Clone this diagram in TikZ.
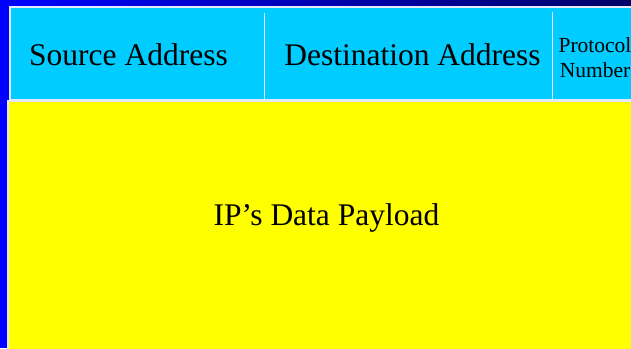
\documentclass[tikz,border=0pt]{standalone}
\usepackage{fontspec}
\setmainfont{Liberation Serif}

\definecolor{slideblue}{HTML}{0000FF}
\definecolor{slidenavy}{HTML}{000066}
\definecolor{fieldcyan}{HTML}{00CCFF}
\definecolor{payloadyellow}{HTML}{FFFF00}
\definecolor{edgewhite}{HTML}{E4E8FF}

\tikzset{
    field/.style={inner sep=0pt, font=\rmfamily\fontsize{31.5}{38}\selectfont},
    smallfield/.style={inner sep=0pt, align=center, font=\rmfamily\fontsize{21.5}{25}\selectfont},
    edge/.style={draw=edgewhite, line width=1.2pt}
}

\begin{document}
\begin{tikzpicture}[x=1pt,y=1pt]
    \useasboundingbox (0,0) rectangle (631,348);
    \clip (0,0) rectangle (631,348);

    % Background
    \fill[slideblue] (0,0) rectangle (631,348);
    \shade[left color=slideblue, right color=slidenavy] (0,342) rectangle (631,348);

    % Header fields
    \filldraw[fill=fieldcyan, edge] (10,248) rectangle (640,341);
    \node[field, anchor=base] (src) at (128.5,282) {Source Address};
    \node[field, anchor=base] (dst) at (412.5,282) {Destination Address};
    \node[smallfield] (proto) at (595,290) {Protocol\\Number};
    \foreach \x/\top in {264/335, 552/336} {
        \draw[edge, line width=1pt] (\x,\top) -- (\x,248);
    }

    % Payload
    \filldraw[fill=payloadyellow, edge] (8,-5) rectangle (640,247);
    \node[field, anchor=base] (payload) at (326.5,122) {IP’s Data Payload};
\end{tikzpicture}
\end{document}
